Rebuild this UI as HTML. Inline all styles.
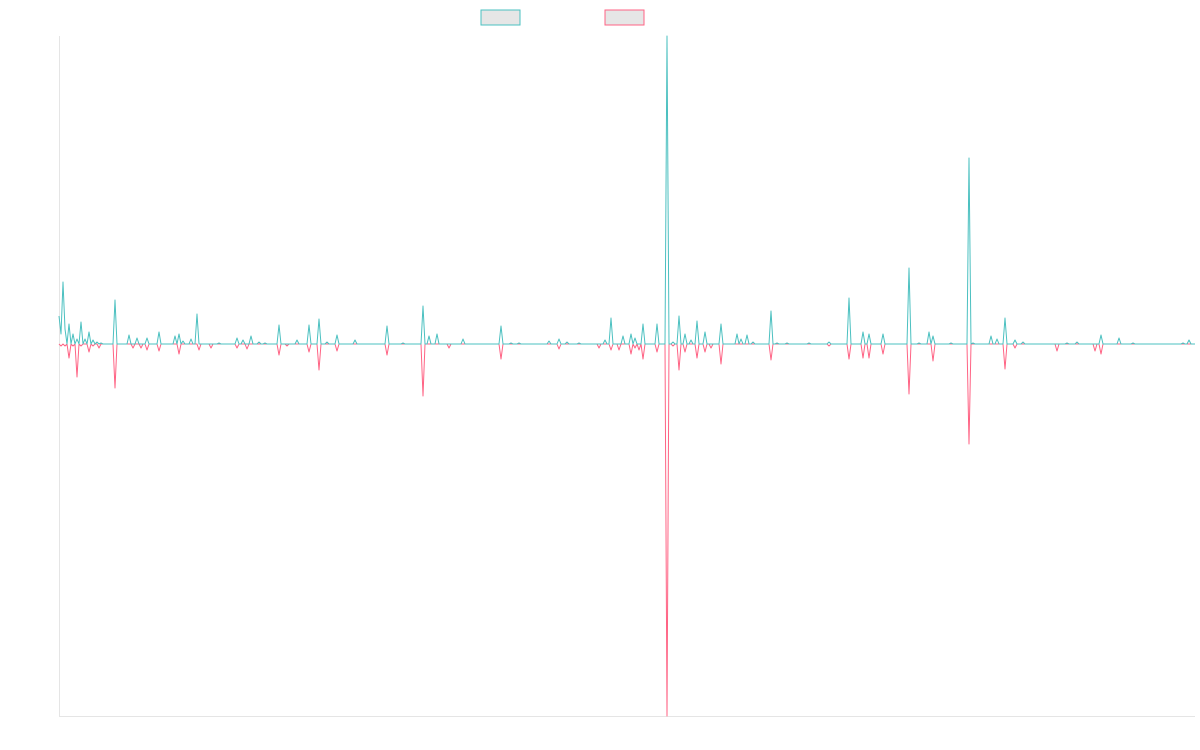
<!DOCTYPE html>
<html><head><meta charset="utf-8"><style>
html,body{margin:0;padding:0;background:#fff;}
svg{display:block;font-family:"Liberation Sans",sans-serif;}
</style></head><body>
<svg id="chart" width="1200" height="750" viewBox="0 0 1200 750" xmlns="http://www.w3.org/2000/svg">
<g>
<rect x="481" y="10" width="39" height="15" fill="#e6e6e6" stroke="#4bc0c0" stroke-width="1"/>
<rect x="605" y="10" width="39" height="15" fill="#e6e6e6" stroke="#ff6384" stroke-width="1"/>
</g>
<line x1="59.5" y1="36" x2="59.5" y2="716" stroke="#e5e5e5"/>
<line x1="59" y1="716.5" x2="1195" y2="716.5" stroke="#e5e5e5"/>
<g id="plot"></g>
</svg>
<script>
const pointCount = 569;
const spikeX = [59,61,63,65,68,69,72,73,76,77,80,81,84,88,89,92,93,96,99,100,114,128,133,137,141,146,158,174,178,182,190,197,199,210,218,237,243,247,251,258,265,279,287,297,309,319,327,336,355,387,402,422,428,437,448,462,500,511,519,548,558,567,578,598,605,611,618,622,631,635,639,643,656,666,672,678,684,690,697,705,711,720,737,741,747,753,770,776,786,808,829,848,862,868,882,909,918,928,932,951,968,973,991,997,1004,1015,1022,1056,1066,1077,1095,1100,1119,1132,1182,1188];
const upValues = [28,10,62,15,20,0,10,0,5,0,22,0,5,12,0,4,0,2,0,1,44,9,0,6,0,6,12,8,10,3,5,30,0,0,1,6,4,0,8,2,1,19,0,4,19,25,2,9,4,18,1,38,8,10,0,5,18,1,1,3,5,2,1,0,4,26,0,8,10,6,0,20,20,308,2,28,10,4,23,12,0,20,10,5,9,2,33,1,1,1,2,46,12,10,10,76,1,12,8,1,186,1,8,5,26,4,2,0,1,2,0,9,6,1,1,4];
const downValues = [0,-2,0,-2,0,-14,0,-2,0,-33,0,-2,0,0,-8,0,-2,0,-4,0,-44,0,-4,0,-4,-6,-7,0,-10,0,0,0,-6,-4,0,-4,0,-5,0,0,0,-11,-2,0,-8,-26,0,-7,0,-11,0,-52,0,0,-4,0,-15,0,0,0,-5,0,0,-4,0,-6,-6,0,-10,-4,-6,-15,-8,-372,-2,-26,-8,0,-14,-8,-4,-20,0,0,0,0,-16,0,0,0,-2,-15,-14,-14,-10,-50,0,0,-17,0,-100,0,0,0,-25,-4,0,-7,0,0,-7,-10,0,0,0,0];

const xLeft = 59, xRight = 1195, yTop = 36, yBottom = 716;
const yMin = -372, yMax = 308;
function xScale(i){ return xLeft + i*(xRight-xLeft)/(pointCount-1); }
function yScale(v){ return yTop + (yMax - v)*(yBottom-yTop)/(yMax-yMin); }
function indexOfX(px){ return Math.round((px-xLeft)/((xRight-xLeft)/(pointCount-1))); }

const up = new Array(pointCount).fill(0), down = new Array(pointCount).fill(0);
spikeX.forEach((px,k)=>{ const i=indexOfX(px); if(upValues[k]) up[i]=upValues[k]; if(downValues[k]) down[i]=downValues[k]; });

const plot = document.getElementById('plot');
function drawSeries(vals,color,name){
  const p = document.createElementNS('http://www.w3.org/2000/svg','path');
  let d='';
  vals.forEach((v,i)=>{ d += (i?'L':'M') + xScale(i).toFixed(2) + ' ' + yScale(v).toFixed(2); });
  p.setAttribute('d',d);
  p.setAttribute('fill','none');
  p.setAttribute('stroke',color);
  p.setAttribute('stroke-width','1');
  p.setAttribute('stroke-linejoin','round');
  
  
  plot.appendChild(p);
}
drawSeries(down,'#ff6384','series-2-line');
drawSeries(up,'#4bc0c0','series-1-line');
</script>
</body></html>
